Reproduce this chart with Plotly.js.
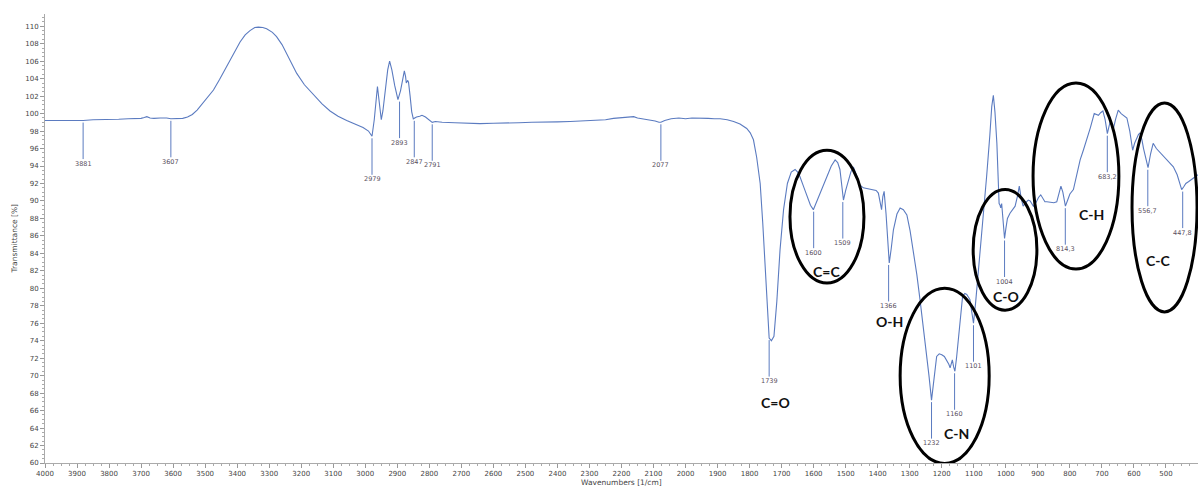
<!DOCTYPE html>
<html>
<head>
<meta charset="utf-8">
<script src="https://cdn.plot.ly/plotly-3.0.1.min.js"></script>
<style>html,body{margin:0;padding:0;background:#fff;}#chart{width:1198px;height:486px;}</style>
</head>
<body>
<div id="chart"></div>
<script>
// Spectrum: wavenumber (1/cm) and transmittance (%)
const wavenumbers = [4000,3960,3920,3881,3850,3810,3770,3740,3715,3700,3690,3682,3672,3660,3640,3620,3607,3590,3570,3555,3540,3525,3510,3490,3474,3455,3433,3410,3391,3375,3360,3345,3334,3320,3308,3290,3277,3260,3235,3214,3190,3163,3135,3110,3085,3058,3030,3007,2990,2979,2972,2966,2962,2957,2950,2945,2938,2930,2924,2917,2908,2898,2890,2884,2878,2874,2872,2868,2865,2860,2855,2850,2840,2830,2823,2812,2800,2791,2781,2760,2720,2680,2642,2600,2560,2520,2480,2433,2400,2360,2320,2280,2250,2225,2200,2180,2162,2150,2130,2110,2095,2083,2077,2065,2045,2021,2000,1980,1955,1930,1910,1892,1870,1850,1830,1820,1809,1798,1788,1778,1767,1759,1751,1745,1739,1732,1724,1715,1705,1694,1682,1670,1658,1650,1643,1630,1620,1610,1601,1590,1575,1559,1545,1533,1525,1518,1512,1507,1500,1492,1484,1476,1465,1455,1445,1430,1414,1405,1398,1392,1388,1384,1380,1374,1368,1364,1358,1351,1340,1330,1320,1309,1299,1289,1278,1268,1258,1247,1240,1232,1225,1216,1208,1200,1192,1185,1178,1174,1170,1167,1163,1159,1154,1148,1142,1135,1128,1122,1117,1112,1106,1101,1094,1088,1081,1070,1060,1050,1044,1039,1034,1028,1024,1021,1018,1016,1013,1010,1008,1004,1000,995,987,980,971,964,958,952,946,938,930,924,918,914,906,898,891,884,878,872,860,850,841,835,828,822,818,814,808,800,789,780,768,758,747,736,724,718,711,704,697,690,683,678,674,669,664,657,649,640,630,622,613,604,598,591,586,581,575,570,565,560,556,548,540,530,520,508,497,488,477,465,458,451,445,438,430,420,410,400];
const transmittance = [99.2,99.2,99.25,99.2,99.3,99.3,99.35,99.4,99.4,99.45,99.55,99.65,99.5,99.45,99.5,99.5,99.4,99.4,99.45,99.6,99.9,100.4,101.1,102.0,102.7,103.9,105.35,106.9,108.2,109.0,109.5,109.85,109.9,109.85,109.7,109.3,108.8,107.9,106.1,104.6,103.3,102.2,101.1,100.3,99.7,99.2,98.8,98.4,98.0,97.4,99.3,101.8,103.1,101.5,99.3,100.3,102.6,105.0,106.0,105.0,103.2,101.6,102.6,104.0,104.9,104.2,103.5,103.8,103.6,102.0,100.2,99.4,99.6,99.7,99.8,99.6,99.2,99.0,99.1,99.0,98.95,98.9,98.85,98.9,98.9,98.95,99.0,99.0,99.05,99.1,99.15,99.2,99.3,99.45,99.5,99.55,99.65,99.5,99.4,99.3,99.15,99.0,99.0,99.2,99.4,99.5,99.4,99.5,99.5,99.45,99.4,99.4,99.3,99.1,98.8,98.6,98.3,97.8,97.0,95.0,92.0,87.5,82.5,77.5,74.3,74.0,74.5,78.5,84.4,89.0,92.0,93.3,93.6,93.3,92.8,91.5,90.4,89.5,89.0,90.0,91.5,92.8,94.0,94.7,94.4,93.6,91.5,90.1,91.2,92.4,93.3,93.9,92.8,91.8,91.5,91.4,91.3,91.2,90.9,89.6,89.0,90.5,91.1,88.5,84.5,82.9,84.5,86.7,88.5,89.2,89.0,88.4,86.6,84.4,81.6,78.7,75.6,72.6,70.0,67.2,69.5,72.2,72.5,72.4,72.2,71.8,71.3,70.9,71.6,71.8,71.0,70.5,72.0,74.1,76.8,79.1,79.4,79.3,79.0,78.7,77.2,76.0,78.5,81.0,83.3,88.0,92.8,97.5,100.8,102.1,100.2,96.6,92.5,89.7,89.5,89.2,89.7,88.0,87.1,85.7,86.8,88.0,88.6,89.0,89.4,90.5,91.7,90.3,89.4,89.8,90.1,90.0,89.6,89.4,89.8,90.4,90.7,90.3,89.9,89.9,89.8,89.8,89.9,90.6,91.7,91.0,90.0,89.4,90.0,90.8,91.3,92.8,94.7,95.8,97.0,98.4,100.0,99.9,99.8,100.1,100.3,99.3,97.7,98.5,99.1,98.6,98.3,99.4,100.4,100.0,99.7,99.5,98.0,95.8,96.6,97.2,97.6,97.8,97.0,96.0,95.1,94.2,93.8,95.4,96.6,96.0,95.6,95.1,94.6,94.3,93.9,93.0,92.2,91.3,91.6,92.0,92.2,92.5,92.8,93.0];

// Peak picks
const peakWn = [3881,3607,2979,2893,2847,2791,2077,1739,1600,1509,1366,1232,1160,1101,1004,814.3,683.2,556.7,447.8];
const peakT = [99.2,99.4,97.4,101.6,99.4,99.0,99.0,74.3,89.0,90.1,82.9,67.2,70.5,76.0,85.7,89.4,97.7,93.8,91.3];
const peakLabels = ["3881","3607","2979","2893","2847","2791","2077","1739","1600","1509","1366","1232","1160","1101","1004","814,3","683,2","556,7","447,8"];

// Functional group labels
const groupLabels = ["C=O","C=C","O-H","C-N","C-O","C-H","C-C"];
const groupWn = [1720,1559,1364,1153,998,734,524];
const groupT = [66.9,81.9,76.2,63.35,79.1,88.5,83.2];

// Ellipses around groups
const ellipseNames = ["C=C","C-N","C-O","C-H","C-C"];
const ellipseWn0 = [1674,1330,1102,915,606];
const ellipseWn1 = [1443,1052,903,647,403];
const ellipseT0 = [80.6,59.95,77.5,82.2,77.3];
const ellipseT1 = [95.8,80.0,91.3,103.5,101.2];

const xTickVals = [4000,3900,3800,3700,3600,3500,3400,3300,3200,3100,3000,2900,2800,2700,2600,2500,2400,2300,2200,2100,2000,1900,1800,1700,1600,1500,1400,1300,1200,1100,1000,900,800,700,600,500,400];

const lineColor = '#5b7bc0';
const tickFont = {family: 'DejaVu Sans, Verdana, sans-serif', size: 7, color: '#444'};

const trace = {
  x: wavenumbers, y: transmittance, type: 'scatter', mode: 'lines',
  line: {color: lineColor, width: 1.1}, hoverinfo: 'skip', showlegend: false
};

const annotations = [];
peakWn.forEach((w, i) => {
  annotations.push({
    x: w, y: peakT[i], xref: 'x', yref: 'y', text: peakLabels[i],
    showarrow: true, arrowhead: 0, arrowwidth: 1, arrowcolor: lineColor,
    ax: 0, ay: 43, standoff: 2, borderpad: 0,
    bgcolor: peakLabels[i] === '2791' ? 'rgba(255,255,255,1)' : 'rgba(0,0,0,0)',
    font: {family: 'DejaVu Sans, sans-serif', size: 6.5, color: '#5a5060'}
  });
});
groupLabels.forEach((g, i) => {
  annotations.push({
    x: groupWn[i], y: groupT[i], xref: 'x', yref: 'y', text: g, showarrow: false,
    font: {family: 'Lato, sans-serif', size: 14, color: '#111', weight: 'bold'}
  });
});
annotations.push({
  x: 0.5, y: 0, xref: 'paper', yref: 'paper', yshift: -19, text: 'Wavenumbers [1/cm]',
  showarrow: false, xanchor: 'center', yanchor: 'middle',
  font: {family: 'DejaVu Sans, sans-serif', size: 7.5, color: '#444'}
});
annotations.push({
  x: 0, y: 0.5, xref: 'paper', yref: 'paper', xshift: -31, text: 'Transmittance [%]',
  showarrow: false, textangle: -90, xanchor: 'center', yanchor: 'middle',
  font: {family: 'DejaVu Sans, sans-serif', size: 7.5, color: '#444'}
});

const shapes = ellipseNames.map((n, i) => ({
  type: 'circle', xref: 'x', yref: 'y',
  x0: ellipseWn0[i], x1: ellipseWn1[i], y0: ellipseT0[i], y1: ellipseT1[i],
  line: {color: '#000', width: 3}
}));

const layout = {
  width: 1198, height: 486,
  margin: {l: 45, r: 0, t: 14, b: 23, pad: 0},
  paper_bgcolor: '#fff', plot_bgcolor: '#fff',
  showlegend: false,
  xaxis: {
    range: [4000, 400], tickmode: 'array', tickvals: xTickVals,
    ticks: 'outside', ticklen: 4, tickcolor: '#999', tickwidth: 1,
    showline: true, linecolor: '#aaa', linewidth: 1,
    showgrid: false, zeroline: false, tickfont: tickFont,
    minor: {dtick: 25, tick0: 400, ticks: 'outside', ticklen: 2, tickcolor: '#aaa', showgrid: false}
  },
  yaxis: {
    range: [60, 111.4], tickmode: 'linear', tick0: 60, dtick: 2,
    ticks: 'outside', ticklen: 4, tickcolor: '#999', tickwidth: 1,
    showline: true, linecolor: '#aaa', linewidth: 1,
    showgrid: false, zeroline: false, tickfont: tickFont,
    minor: {dtick: 0.5, tick0: 60, ticks: 'outside', ticklen: 2, tickcolor: '#aaa', showgrid: false}
  },
  annotations: annotations,
  shapes: shapes
};

Plotly.newPlot('chart', [trace], layout, {staticPlot: true, displayModeBar: false});
</script>
</body>
</html>
